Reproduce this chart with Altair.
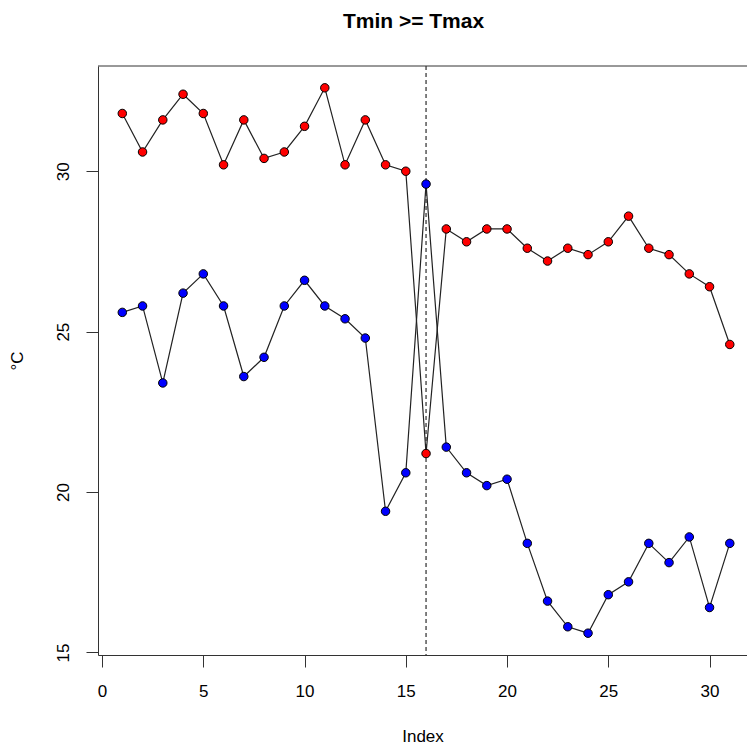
import altair as alt
import pandas as pd

# Daily temperatures (°C) for days 1..31
days = list(range(1, 32))
tmax = [31.8, 30.6, 31.6, 32.4, 31.8, 30.2, 31.6, 30.4, 30.6, 31.4,
        32.6, 30.2, 31.6, 30.2, 30.0, 21.2, 28.2, 27.8, 28.2, 28.2,
        27.6, 27.2, 27.6, 27.4, 27.8, 28.6, 27.6, 27.4, 26.8, 26.4, 24.6]
tmin = [25.6, 25.8, 23.4, 26.2, 26.8, 25.8, 23.6, 24.2, 25.8, 26.6,
        25.8, 25.4, 24.8, 19.4, 20.6, 29.6, 21.4, 20.6, 20.2, 20.4,
        18.4, 16.6, 15.8, 15.6, 16.8, 17.2, 18.4, 17.8, 18.6, 16.4, 18.4]
flag_day = [16]
x_ticks = [0, 5, 10, 15, 20, 25, 30]
y_ticks = [15, 20, 25, 30]

df = pd.DataFrame({
    "Index": days * 2,
    "temp": tmax + tmin,
    "series": ["Tmax"] * len(days) + ["Tmin"] * len(days),
})
flags = pd.DataFrame({"Index": flag_day})

W, H = 649, 589
FONT = "Liberation Sans"

x_scale = alt.Scale(domain=[-0.2, 31.85], nice=False, zero=False)
y_scale = alt.Scale(domain=[14.92, 33.28], nice=False, zero=False)

x_enc = alt.X("Index:Q", scale=x_scale,
              axis=alt.Axis(values=x_ticks, title="Index", tickSize=12,
                            labelPadding=29, labelBaseline="alphabetic",
                            titleY=86, titleBaseline="alphabetic"))
y_enc = alt.Y("temp:Q", scale=y_scale,
              axis=alt.Axis(values=y_ticks, title="°C", tickSize=12,
                            labelAngle=270, labelAlign="center",
                            labelBaseline="bottom", labelPadding=14,
                            titleAngle=270, titleX=-81,
                            titleBaseline="middle"))

vline = alt.Chart(flags).mark_rule(
    color="black", strokeWidth=1, strokeDash=[4, 3]
).encode(x=alt.X("Index:Q", scale=x_scale))

lines = alt.Chart(df).mark_line(color="#222222", strokeWidth=1.2).encode(
    x=x_enc, y=y_enc, detail="series:N"
)

points = alt.Chart(df).mark_point(
    filled=True, size=72, stroke="black", strokeWidth=1, opacity=1
).encode(
    x=alt.X("Index:Q", scale=x_scale),
    y=alt.Y("temp:Q", scale=y_scale),
    fill=alt.Fill("series:N",
                  scale=alt.Scale(domain=["Tmax", "Tmin"],
                                  range=["#ff0000", "#0000ff"]),
                  legend=None),
)

top_border = alt.Chart(flags).mark_rule(color="#333333", strokeWidth=1).encode(
    x=alt.value(0), x2=alt.value(W), y=alt.value(0)
)

chart = alt.layer(vline, lines, points, top_border).properties(
    width=W,
    height=H,
    title=alt.TitleParams("Tmin >= Tmax", font=FONT, fontSize=21,
                          fontWeight="bold", anchor="middle",
                          baseline="alphabetic", offset=16.5, dx=-9,
                          color="black"),
    autosize=alt.AutoSizeParams(type="none"),
    padding={"left": 98, "top": 66, "right": 0, "bottom": 89},
).configure_view(stroke=None).configure_axis(
    grid=False,
    domainColor="#333333",
    domainWidth=1,
    tickColor="#333333",
    tickWidth=1,
    labelFont=FONT,
    labelFontSize=17,
    labelColor="black",
    titleFont=FONT,
    titleFontSize=17,
    titleFontWeight="normal",
    titleColor="black",
)

chart.save("out.html", embed_options={"renderer": "svg", "actions": False})
